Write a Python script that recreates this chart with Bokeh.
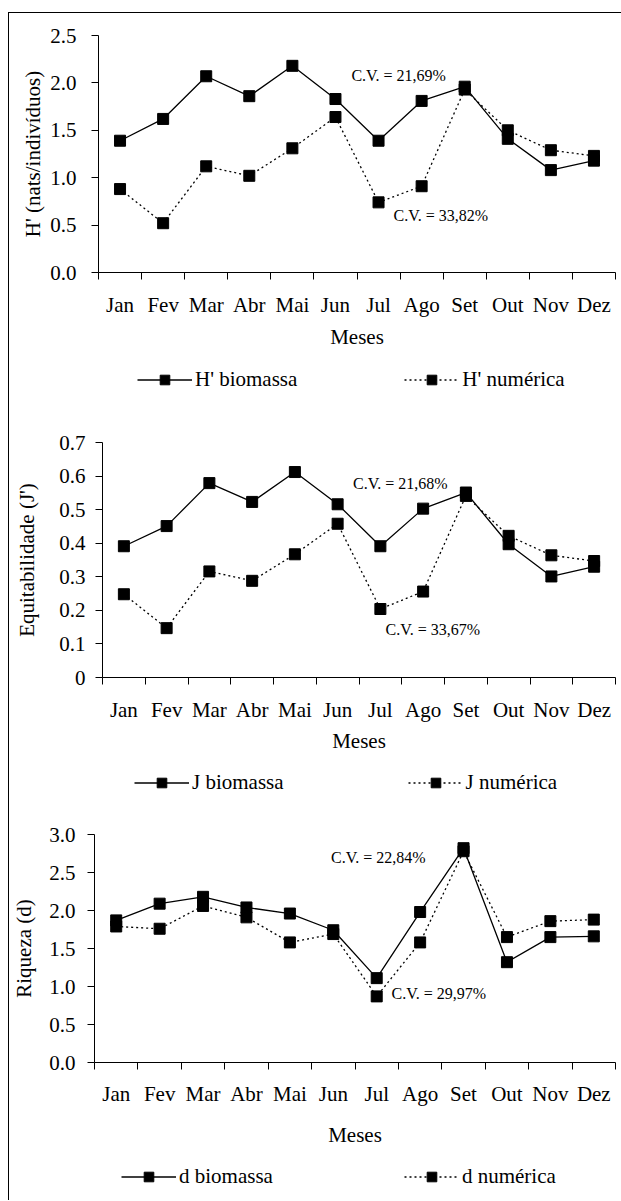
from bokeh.plotting import figure
from bokeh.layouts import column
from bokeh.models import Range1d, FixedTicker, Legend, LegendItem, Label, NumeralTickFormatter
from bokeh.embed import file_html
from bokeh.resources import INLINE

months = ["Jan", "Fev", "Mar", "Abr", "Mai", "Jun", "Jul", "Ago", "Set", "Out", "Nov", "Dez"]

h_biomassa = [1.39, 1.62, 2.07, 1.86, 2.18, 1.83, 1.39, 1.81, 1.96, 1.41, 1.08, 1.18]
h_numerica = [0.88, 0.52, 1.12, 1.02, 1.31, 1.64, 0.74, 0.91, 1.93, 1.50, 1.29, 1.23]
j_biomassa = [0.391, 0.451, 0.579, 0.523, 0.612, 0.516, 0.391, 0.503, 0.551, 0.397, 0.301, 0.330]
j_numerica = [0.248, 0.147, 0.316, 0.288, 0.367, 0.458, 0.204, 0.256, 0.541, 0.422, 0.364, 0.347]
d_biomassa = [1.87, 2.09, 2.18, 2.04, 1.96, 1.74, 1.11, 1.98, 2.82, 1.32, 1.65, 1.66]
d_numerica = [1.79, 1.76, 2.06, 1.91, 1.58, 1.69, 0.87, 1.58, 2.78, 1.65, 1.86, 1.88]

h_ticks = [0.0, 0.5, 1.0, 1.5, 2.0, 2.5]
j_ticks = [0.0, 0.1, 0.2, 0.3, 0.4, 0.5, 0.6, 0.7]
d_ticks = [0.0, 0.5, 1.0, 1.5, 2.0, 2.5, 3.0]

h_cv = [("C.V. = 21,69%", 5.87, 2.08), ("C.V. = 33,82%", 6.85, 0.60)]
j_cv = [("C.V. = 21,68%", 5.86, 0.577), ("C.V. = 33,67%", 6.62, 0.143)]
d_cv = [("C.V. = 22,84%", 5.45, 2.70), ("C.V. = 29,97%", 6.84, 0.91)]

h_names = ["H' biomassa", "H' numérica"]
j_names = ["J biomassa", "J numérica"]
d_names = ["d biomassa", "d numérica"]

FONT = "Liberation Serif"
W = 612
DASH = "2 3"
XS = [i + 0.5 for i in range(len(months))]


def panel(ylabel, bio, num, ticks, cv, zero_label, left, top, fh, bottom,
          tl_standoff, yl_standoff, xt_standoff, xl_standoff):
    n = len(months)
    p = figure(width=W, height=top + fh + bottom,
               min_border_left=left, min_border_right=6,
               min_border_top=top, min_border_bottom=bottom,
               x_range=Range1d(0, n), y_range=Range1d(ticks[0], ticks[-1]),
               output_backend="svg", toolbar_location=None, tools="")
    p.outline_line_color = None
    p.xgrid.visible = False
    p.ygrid.visible = False
    p.background_fill_color = "white"
    p.border_fill_color = "white"

    xa = p.xaxis[0]
    xa.ticker = FixedTicker(ticks=XS, minor_ticks=list(range(n + 1)))
    xa.major_label_overrides = {x: m for x, m in zip(XS, months)}
    xa.major_tick_out = 0
    xa.major_tick_in = 0
    xa.minor_tick_out = 7
    xa.minor_tick_in = 0
    xa.minor_tick_line_color = "black"
    xa.axis_line_color = "black"
    xa.major_label_text_font = FONT
    xa.major_label_text_font_size = "21px"
    xa.major_label_text_color = "black"
    xa.major_label_standoff = xt_standoff
    xa.axis_label = "Meses"
    xa.axis_label_text_font = FONT
    xa.axis_label_text_font_size = "21px"
    xa.axis_label_text_font_style = "normal"
    xa.axis_label_text_color = "black"
    xa.axis_label_standoff = xl_standoff

    ya = p.yaxis[0]
    ya.ticker = FixedTicker(ticks=ticks, minor_ticks=[])
    ya.formatter = NumeralTickFormatter(format="0.0")
    if zero_label:
        ya.major_label_overrides = {0: "0"}
    ya.major_tick_out = 7
    ya.major_tick_in = 0
    ya.major_tick_line_color = "black"
    ya.axis_line_color = "black"
    ya.major_label_text_font = FONT
    ya.major_label_text_font_size = "21px"
    ya.major_label_text_color = "black"
    ya.major_label_standoff = tl_standoff
    ya.axis_label = ylabel
    ya.axis_label_text_font = FONT
    ya.axis_label_text_font_size = "21px"
    ya.axis_label_text_font_style = "normal"
    ya.axis_label_text_color = "black"
    ya.axis_label_standoff = yl_standoff

    p.line(XS, num, line_color="black", line_width=1.3, line_dash=DASH)
    p.scatter(XS, num, marker="square", size=11, color="black")
    p.line(XS, bio, line_color="black", line_width=1.3)
    p.scatter(XS, bio, marker="square", size=11, color="black")

    for text, x, y in cv:
        p.add_layout(Label(x=x, y=y, text=text, text_font=FONT, text_font_size="16px",
                           text_color="black", text_baseline="middle", text_align="left"))
    return p


def legend_fig(names, bio, num, h, left, top, bottom, spacing):
    # legend strip: the series are drawn far outside its (empty) view range,
    # only the legend samples are visible
    q = figure(width=W, height=h, min_border_left=left, min_border_right=0,
               min_border_top=top, min_border_bottom=bottom,
               x_range=Range1d(0, len(months)), y_range=Range1d(100, 101),
               x_axis_location=None, y_axis_location=None,
               output_backend="svg", toolbar_location=None, tools="")
    q.outline_line_color = None
    q.xgrid.visible = False
    q.ygrid.visible = False
    q.border_fill_color = "white"
    rb = q.line(XS, bio, line_color="black", line_width=1.3)
    sb = q.scatter(XS, bio, marker="square", size=11, color="black")
    rn = q.line(XS, num, line_color="black", line_width=1.3, line_dash=DASH)
    sn = q.scatter(XS, num, marker="square", size=11, color="black")
    legend = Legend(items=[LegendItem(label=names[0], renderers=[rb, sb]),
                           LegendItem(label=names[1], renderers=[rn, sn])],
                    orientation="horizontal", location="left",
                    label_text_font=FONT, label_text_font_size="21px", label_text_color="black",
                    glyph_width=55, glyph_height=24, label_height=24,
                    label_standoff=3, spacing=spacing,
                    border_line_color=None, background_fill_alpha=0, padding=0, margin=0)
    q.add_layout(legend, "center")
    return q


p1 = panel("H' (nats/indivíduos)", h_biomassa, h_numerica, h_ticks, h_cv, False,
           89, 22, 237, 88, 15, 2, 13, 5)
l1 = legend_fig(h_names, h_biomassa, h_numerica, 40, 128, 0, 2, 107)
p2 = panel("Equitabilidade (J')", j_biomassa, j_numerica, j_ticks, j_cv, True,
           93, 42, 235, 83, 10, 17, 13, 4)
l2 = legend_fig(j_names, j_biomassa, j_numerica, 40, 125, 4, 0, 124)
p3 = panel("Riqueza (d)", d_biomassa, d_numerica, d_ticks, d_cv, False,
           85, 34, 228, 93, 12, 10, 12, 14)
l3 = legend_fig(d_names, d_biomassa, d_numerica, 45, 112, 0, 3, 131)

layout = column(*[column(f, margin=0) for f in (p1, l1, p2, l2, p3, l3)],
                margin=(12, 0, 0, 8), spacing=0,
                styles={"border-top": "1px solid black", "border-left": "1px solid black"})

open("out.html", "w").write(file_html(layout, INLINE))
